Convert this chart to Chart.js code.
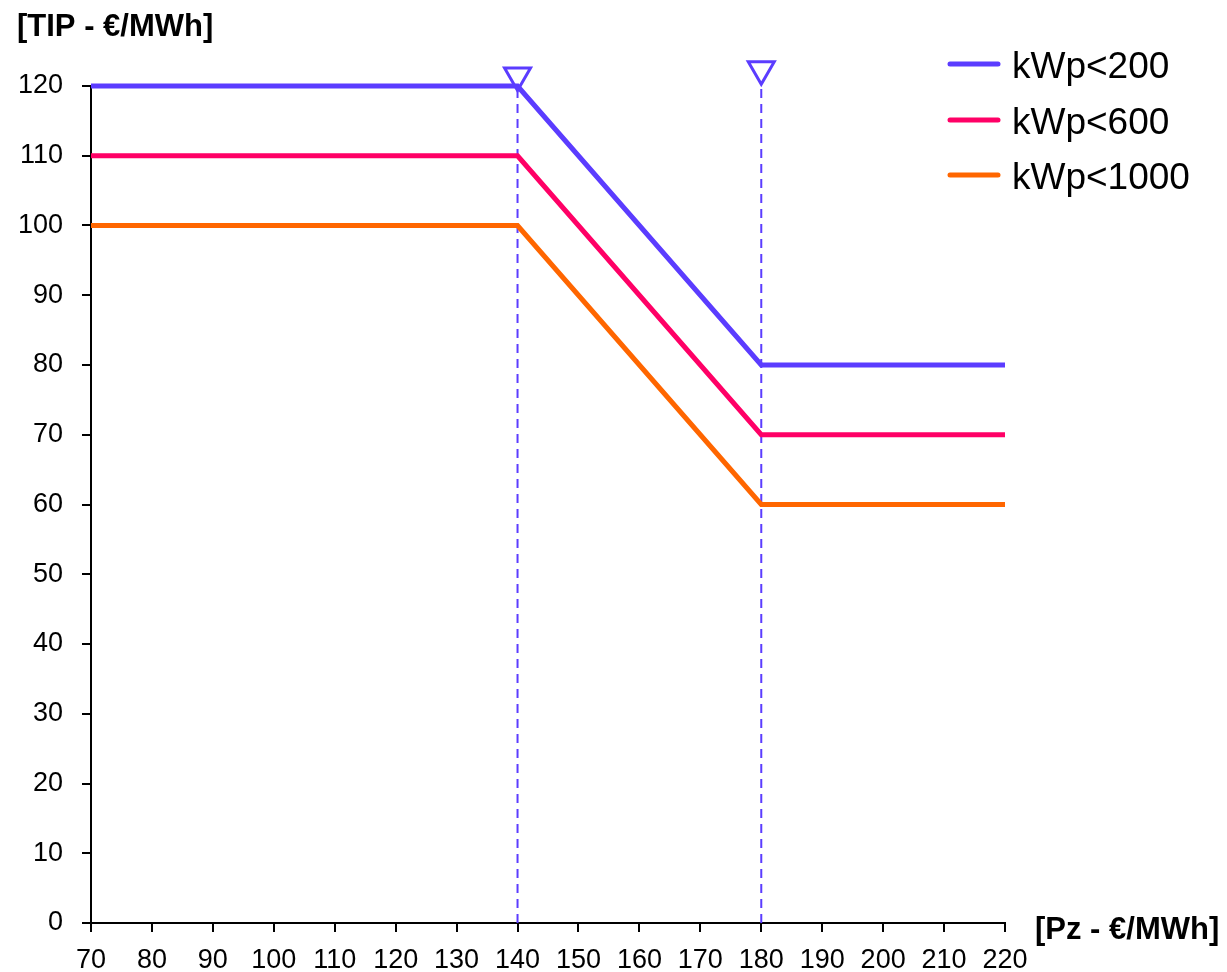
<!DOCTYPE html>
<html>
<head>
<meta charset="utf-8">
<script src="https://cdn.jsdelivr.net/npm/chart.js@4"></script>
<style>
  html, body { margin: 0; padding: 0; background: #fff; }
  #wrap { width: 1227px; height: 972px; }
</style>
</head>
<body>
<div id="wrap"><canvas id="tipChart" width="1227" height="972"></canvas></div>
<script>
// dati
const pzPoints = [70, 140, 180, 220];
const tip200 = [120, 120, 80, 80];
const tip600 = [110, 110, 70, 70];
const tip1000 = [100, 100, 60, 60];
const seriesLabels = ['kWp<200', 'kWp<600', 'kWp<1000'];
const thresholds = [140, 180];
const markerLevels = [121.5, 122.4];
const yTitle = '[TIP - €/MWh]';
const xTitle = '[Pz - €/MWh]';

const BLUE = '#5B3CFF';
const PINK = '#FF0066';
const ORANGE = '#FF6600';
const colors = [BLUE, PINK, ORANGE];
const FONT = '"Liberation Sans", Arial, sans-serif';

const toPoints = (ys) => pzPoints.map((x, i) => ({ x, y: ys[i] }));

const datasets = [];
// linee verticali tratteggiate
thresholds.forEach(t => {
    datasets.push({
        data: [{ x: t, y: 0 }, { x: t, y: 120 }],
        borderColor: BLUE,
        borderWidth: 2,
        borderDash: [9, 6],
        pointRadius: 0,
        order: 5
    });
});
[tip200, tip600, tip1000].forEach((ys, i) => {
    datasets.push({
        label: seriesLabels[i],
        data: toPoints(ys),
        borderColor: colors[i],
        borderWidth: 5,
        pointRadius: 0,
        clip: false,
        order: 3 - i
    });
});
// triangoli
datasets.push({
    data: thresholds.map((t, i) => ({ x: t, y: markerLevels[i] })),
    showLine: false,
    pointStyle: 'triangle',
    rotation: 180,
    pointRadius: 15,
    borderWidth: 3,
    borderColor: BLUE,
    backgroundColor: 'rgba(0,0,0,0)',
    clip: false,
    order: 0
});

const extras = {
    id: 'extras',
    afterDraw(chart) {
        const ctx = chart.ctx;
        ctx.save();
        ctx.fillStyle = '#000';
        ctx.font = 'bold 31px ' + FONT;
        ctx.textBaseline = 'alphabetic';
        ctx.textAlign = 'left';
        ctx.fillText(yTitle, 17, 36);
        ctx.fillText(xTitle, 1035, 939);

        // legenda
        ctx.font = '37px ' + FONT;
        const base = [78, 134, 189];
        seriesLabels.forEach((lab, i) => {
            ctx.strokeStyle = colors[i];
            ctx.lineWidth = 5;
            ctx.lineCap = 'round';
            ctx.beginPath();
            ctx.moveTo(950, base[i] - 14);
            ctx.lineTo(998, base[i] - 14);
            ctx.stroke();
            ctx.fillStyle = '#000';
            ctx.fillText(lab, 1012, base[i]);
        });
        ctx.restore();
    }
};

new Chart(document.getElementById('tipChart'), {
    type: 'line',
    data: { datasets },
    options: {
        responsive: false,
        animation: false,
        devicePixelRatio: 1,
        layout: { padding: { top: 86, right: 222, left: 0, bottom: 0 } },
        plugins: { legend: { display: false }, tooltip: { enabled: false } },
        scales: {
            x: {
                type: 'linear',
                min: 70,
                max: 220,
                afterFit: (s) => { s.height = 49; },
                border: { color: '#000', width: 2 },
                grid: { display: true, drawOnChartArea: false, drawTicks: true, tickLength: 9, color: '#000', lineWidth: 2 },
                ticks: {
                    stepSize: 10,
                    autoSkip: false,
                    maxRotation: 0,
                    padding: 12,
                    color: '#000',
                    font: { family: FONT, size: 27 }
                }
            },
            y: {
                min: 0,
                max: 120,
                afterFit: (s) => { s.width = 91; },
                border: { color: '#000', width: 2 },
                grid: { display: true, drawOnChartArea: false, drawTicks: true, tickLength: 9, color: '#000', lineWidth: 2 },
                ticks: {
                    stepSize: 10,
                    padding: 19,
                    color: '#000',
                    font: { family: FONT, size: 27 }
                }
            }
        }
    },
    plugins: [extras]
});
</script>
</body>
</html>
